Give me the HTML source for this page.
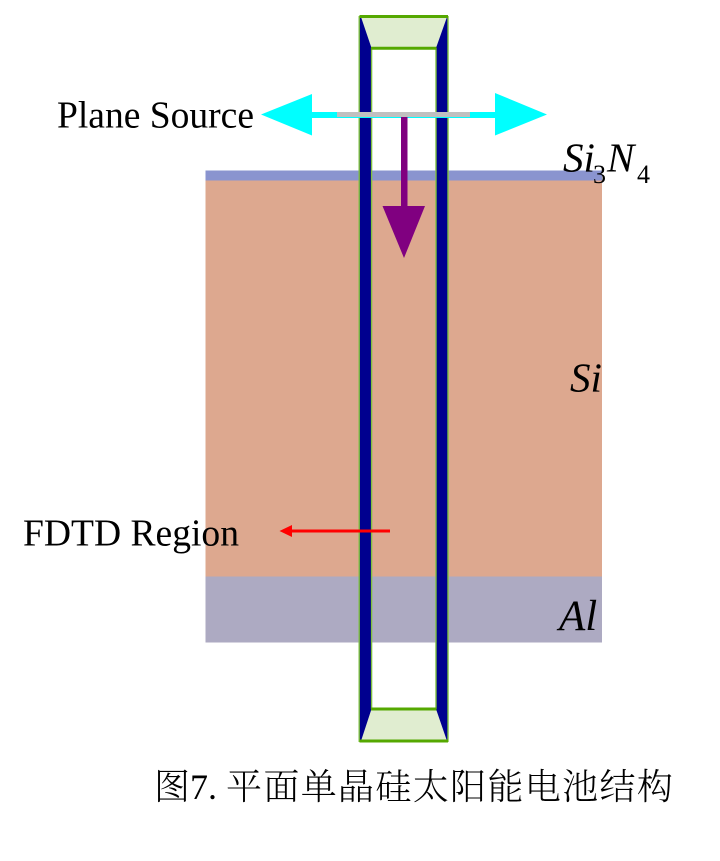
<!DOCTYPE html>
<html>
<head>
<meta charset="utf-8">
<style>
html,body{margin:0;padding:0;background:#fff;}
svg{display:block;}
text{font-family:"Liberation Serif",serif;fill:#000;}
.i{font-style:italic;}
.c{font-family:"Noto Serif CJK SC",serif;font-weight:300;letter-spacing:1.35px;}
</style>
</head>
<body>
<svg width="720" height="861" viewBox="0 0 720 861" xmlns="http://www.w3.org/2000/svg">
<rect x="205.5" y="170.5" width="396.5" height="10" fill="#8a94cf"/>
<rect x="205.5" y="180.5" width="396.5" height="396" fill="#dda88f"/>
<rect x="205.5" y="576.5" width="396.5" height="66" fill="#adaac2"/>

<rect x="359.5" y="16" width="12" height="725" fill="#00008f"/>
<rect x="436" y="16" width="12" height="725" fill="#00008f"/>
<polygon points="361,17 447,17 436,48 371.5,48" fill="#e0edd0"/>
<polygon points="361,741 447,741 436,709 371.5,709" fill="#e0edd0"/>
<g stroke="#7fc040" stroke-width="1.4" fill="none">
<line x1="359.2" y1="16" x2="359.2" y2="742"/>
<line x1="448" y1="16" x2="448" y2="742"/>
<line x1="371.6" y1="48" x2="371.6" y2="709"/>
<line x1="436" y1="48" x2="436" y2="709"/>
</g>
<g stroke="#55a800" stroke-width="3" fill="none">
<line x1="359.5" y1="16.5" x2="448" y2="16.5"/>
<line x1="371" y1="48.3" x2="436.5" y2="48.3"/>
<line x1="371" y1="709" x2="436.5" y2="709"/>
<line x1="359.5" y1="741" x2="448" y2="741"/>
</g>

<rect x="305" y="112" width="195" height="6" fill="#00ffff"/>
<polygon points="261,114.5 312,94 312,135.5" fill="#00ffff"/>
<polygon points="547,114.5 495,93 495,135.5" fill="#00ffff"/>
<rect x="337" y="112" width="133" height="5" fill="#c0c0c0"/>

<rect x="401" y="117" width="6.5" height="90" fill="#800080"/>
<polygon points="382.5,206 425,206 404,258" fill="#800080"/>

<rect x="290" y="529.5" width="100" height="3" fill="#ff0000"/>
<polygon points="279.5,531 292,525 292,537" fill="#ff0000"/>

<text x="57" y="127.5" font-size="38" textLength="197" lengthAdjust="spacingAndGlyphs">Plane Source</text>
<text x="23" y="545.5" font-size="38" textLength="216" lengthAdjust="spacingAndGlyphs">FDTD Region</text>
<text class="i" x="563" y="171.5" font-size="41">Si</text>
<text x="593" y="183" font-size="26">3</text>
<text class="i" x="607" y="171.5" font-size="41">N</text>
<text x="637" y="183" font-size="26">4</text>
<text class="i" x="570" y="391.5" font-size="41">Si</text>
<text class="i" x="559" y="630" font-size="43">Al</text>

<text class="c" x="154" y="799" font-size="36">图</text>
<text x="190" y="799" font-size="36">7.</text>
<text class="c" x="226" y="799" font-size="36">平面单晶硅太阳能电池结构</text>
</svg>
</body>
</html>
